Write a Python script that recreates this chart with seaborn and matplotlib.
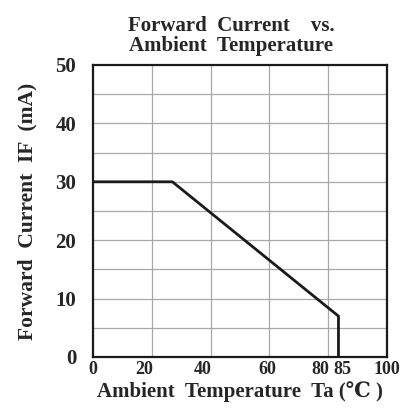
import seaborn as sns
import matplotlib.pyplot as plt
import matplotlib.transforms as mtrans
import pandas as pd

# derating curve
temp = [0, 27, 83.5, 83.5]
current = [30, 30, 7, 0]

x_ticks = [0, 20, 40, 60, 80, 85, 100]
y_ticks = [0, 10, 20, 30, 40, 50]

df = pd.DataFrame({"Ta": temp, "IF": current})

sns.set_style("white")
plt.rcParams["font.family"] = ["Liberation Serif", "DejaVu Serif", "DejaVu Sans"]
plt.rcParams["font.weight"] = "bold"

fig = plt.figure(figsize=(4.14, 4.08), dpi=100)
ax = fig.add_axes([0.2246, 0.125, 0.7101, 0.7157])

# grid: vertical every 20, horizontal every 5
for gx in [20, 40, 60, 80]:
    ax.axvline(gx, color="#a8a8a8", lw=0.9, zorder=1)
for gy in range(5, 50, 5):
    ax.axhline(gy, color="#a8a8a8", lw=0.9, zorder=1)

sns.lineplot(data=df, x="Ta", y="IF", sort=False, estimator=None,
             color="#1a1a1a", lw=2, ax=ax, zorder=3)

ax.set_xlim(0, 100)
ax.set_ylim(0, 50)
ax.set_xticks(x_ticks)
ax.set_yticks(y_ticks)
ax.set_xticklabels([str(t) for t in x_ticks], fontsize=13, fontweight="bold")
ax.set_yticklabels([str(t) for t in y_ticks], fontsize=15, fontweight="bold")
ax.tick_params(length=0, pad=12)
ax.tick_params(axis="x", pad=3)

# the 80 / 85 labels sit close together, nudge them apart like the original
shifts = {80: -8, 85: 0, 20: -8, 40: -8, 60: -2}
for lab, t in zip(ax.get_xticklabels(), x_ticks):
    if t in shifts:
        lab.set_transform(lab.get_transform() +
                          mtrans.ScaledTranslation(shifts[t] / 100, 0, fig.dpi_scale_trans))

for s in ax.spines.values():
    s.set_color("#1a1a1a")
    s.set_linewidth(1.6)

ax.set_xlabel("Ambient  Temperature  Ta (℃ )", fontsize=15, fontweight="bold", labelpad=2)
ax.set_ylabel("Forward  Current  IF  (mA)", fontsize=15.5, fontweight="bold", labelpad=13)
ax.set_title("Forward  Current    vs.\nAmbient  Temperature", fontsize=15,
             fontweight="bold", pad=10, linespacing=1.0, x=0.47)

fig.savefig("out.png", dpi=100)
